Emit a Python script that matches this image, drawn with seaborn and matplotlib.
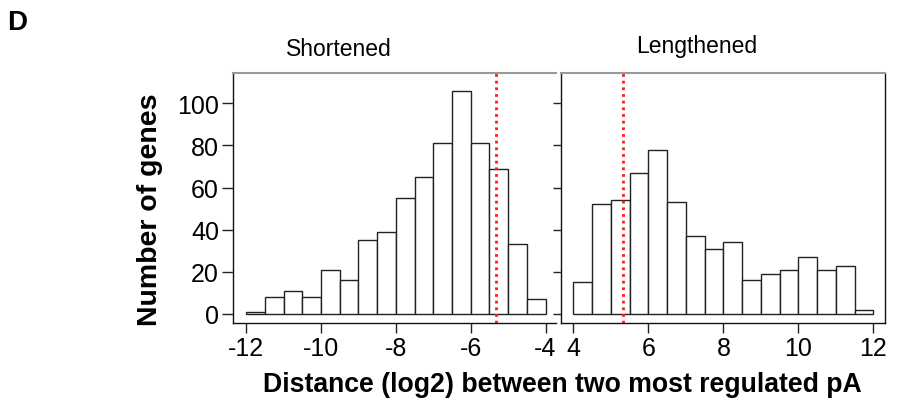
import numpy as np
import pandas as pd
import matplotlib
matplotlib.use("Agg")
import matplotlib.pyplot as plt
import seaborn as sns

# ---- data ----
short_bin_start = [-12.0, -11.5, -11.0, -10.5, -10.0, -9.5, -9.0, -8.5,
                   -8.0, -7.5, -7.0, -6.5, -6.0, -5.5, -5.0, -4.5]
short_counts = [1, 8, 11, 8, 21, 16, 35, 39, 55, 65, 81, 106, 81, 69, 33, 7]
long_bin_start = [4.0, 4.5, 5.0, 5.5, 6.0, 6.5, 7.0, 7.5,
                  8.0, 8.5, 9.0, 9.5, 10.0, 10.5, 11.0, 11.5]
long_counts = [15, 52, 54, 67, 78, 53, 37, 31, 34, 16, 19, 21, 27, 21, 23, 2]
bin_width = 0.5
short_cutoff = -5.33
long_cutoff = 5.31
short_xticks = [-12, -10, -8, -6, -4]
long_xticks = [4, 6, 8, 10, 12]
yticks = [0, 20, 40, 60, 80, 100]
panel_titles = ["Shortened", "Lengthened"]

sns.set_theme(style="white")
plt.rcParams['font.family'] = ['Liberation Sans', 'DejaVu Sans']
plt.rcParams['text.color'] = 'black'
plt.rcParams['xtick.color'] = 'black'
plt.rcParams['ytick.color'] = 'black'
plt.rcParams['axes.labelcolor'] = 'black'

fig = plt.figure(figsize=(9.01, 4.14), dpi=100)
W, H = 901, 414


def ax_at(x0, x1, ytop, ybot):
    return fig.add_axes([x0 / W, 1 - ybot / H, (x1 - x0) / W, (ybot - ytop) / H])


axL = ax_at(233, 556, 74, 324)
axR = ax_at(561, 885, 74, 324)

for ax, starts, counts, cut, xt, xlim in [
    (axL, short_bin_start, short_counts, short_cutoff, short_xticks, (-12.35, -3.72)),
    (axR, long_bin_start, long_counts, long_cutoff, long_xticks, (3.67, 12.31)),
]:
    df = pd.DataFrame({"x": np.array(starts) + bin_width / 2, "n": counts})
    edges = list(starts) + [starts[-1] + bin_width]
    sns.histplot(data=df, x="x", weights="n", bins=edges, ax=ax,
                 color="white", edgecolor="#222222", linewidth=1.0, alpha=1)
    ax.axvline(cut, color="#ff1a1a", linestyle=(0, (1, 1.4)), linewidth=2.0, zorder=5)
    ax.set_xlim(*xlim)
    ax.set_ylim(-4.3, 114.4)
    ax.set_xticks(xt)
    ax.set_xticklabels([str(v) for v in xt], fontsize=18)
    ax.set_yticks(yticks)
    ax.set_xlabel("")
    ax.set_ylabel("")
    ax.tick_params(axis="x", direction="out", length=7, width=1, color="#222222", pad=2,
                   bottom=True)
    for s in ax.spines.values():
        s.set_linewidth(1.0)
        s.set_color("#111111")
    ax.spines["top"].set_color("#999999")
    ax.spines["top"].set_linewidth(1.5)

axL.spines["right"].set_visible(False)
axL.tick_params(axis="y", direction="out", length=8, width=1, color="#222222",
                labelsize=18, pad=2, left=True)
axL.set_yticklabels([str(v) for v in yticks])
axR.tick_params(axis="y", direction="out", length=6, width=1, color="#222222",
                left=True, labelleft=False)

fig.text(339 / W, 1 - 49 / H, panel_titles[0], ha="center", va="center", fontsize=16.5)
fig.text(697 / W, 1 - 47 / H, panel_titles[1], ha="center", va="center", fontsize=16.5)
fig.text(7 / W, 1 - 23 / H, "D", ha="left", va="center", fontsize=20, fontweight="bold")
fig.text(150 / W, 1 - 210 / H, "Number of genes", ha="center", va="center",
         rotation=90, fontsize=20.5, fontweight="bold")
fig.text(562 / W, 1 - 385 / H, "Distance (log2) between two most regulated pA",
         ha="center", va="center", fontsize=19.2, fontweight="bold")

fig.savefig("out.png", dpi=100)
